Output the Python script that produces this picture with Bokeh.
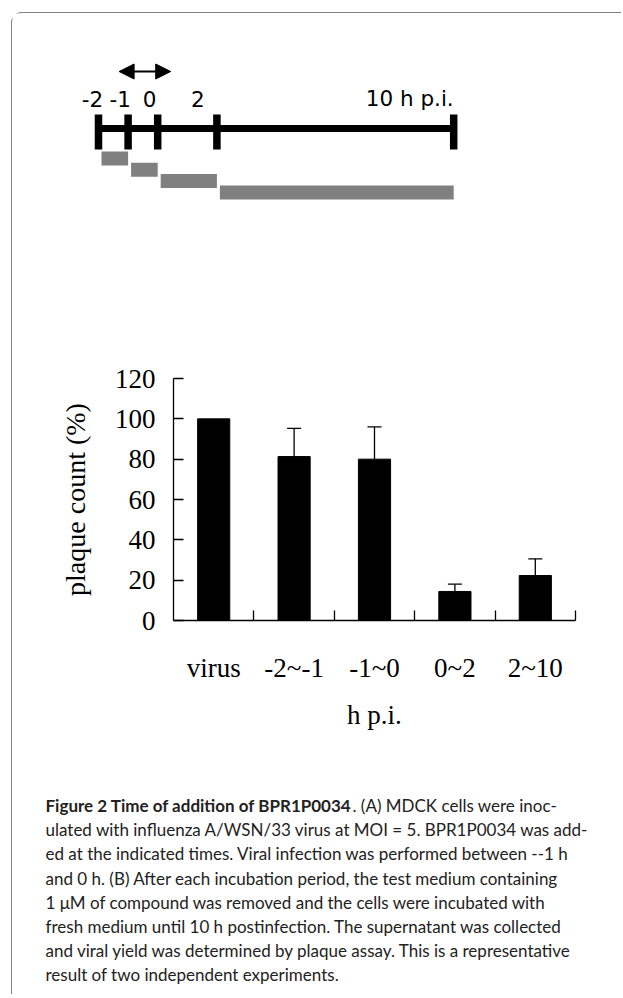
import numpy as np
from bokeh.plotting import figure
from bokeh.models import (ColumnDataSource, Range1d, FixedTicker, Whisker, TeeHead, Arrow, NormalHead)
from bokeh.core.properties import value
from bokeh.embed import file_html
from bokeh.resources import INLINE

# ---------------- data: panel A (timeline, hours post infection) ----------------
tick_hours = [-2, -1, 0, 2, 10]
tick_labels = ["-2", "-1", "0", "2", "10 h p.i."]
period_start = [-2, -1, 0, 2]
period_end = [-1, 0, 2, 10]
infection_period = [-1, 0]

# ---------------- data: panel B (plaque count) ----------------
categories = ["virus", "-2~-1", "-1~0", "0~2", "2~10"]
plaque_pct = [100, 81.3, 80.0, 14.4, 22.3]
plaque_err = [0, 14.0, 16.0, 3.6, 8.3]
y_ticks = [0, 20, 40, 60, 80, 100, 120]

# ---------------- caption ----------------
caption_bold = "Figure 2 Time of addition of BPR1P0034"
caption_first_rest = ". (A) MDCK cells were inoc-"
caption_lines = [
    "ulated with influenza A/WSN/33 virus at MOI = 5. BPR1P0034 was add-",
    "ed at the indicated times. Viral infection was performed between --1 h",
    "and 0 h. (B) After each incubation period, the test medium containing",
    "1 \u03bcM of compound was removed and the cells were incubated with",
    "fresh medium until 10 h postinfection. The supernatant was collected",
    "and viral yield was determined by plaque assay. This is a representative",
    "result of two independent experiments.",
]

W = 610
H1, H2, H3 = 326, 400, 256
PX_PER_H = 29.6
X0_PX = 145.2            # pixel of 0 h inside the figure
BORDER = "1.3px solid #808080"


def bare(fig):
    fig.grid.visible = False
    fig.outline_line_color = None
    return fig


# ---------------- panel A ----------------
p1 = figure(width=W, height=H1, x_range=Range1d(-X0_PX / PX_PER_H, (W - X0_PX) / PX_PER_H),
            y_range=Range1d(H1, 0), toolbar_location=None, output_backend="svg",
            x_axis_location=None, y_axis_location=None, min_border=0)
bare(p1)
p1.styles = {"margin-left": "11px", "margin-top": "12px",
             "border-top": BORDER, "border-left": BORDER, "border-top-left-radius": "11px"}

LINE_Y = 115
p1.segment(x0=[min(tick_hours)], x1=[max(tick_hours)], y0=[LINE_Y], y1=[LINE_Y],
           line_width=7, line_color="black", line_cap="butt")
p1.segment(x0=tick_hours, x1=tick_hours, y0=[LINE_Y - 14] * len(tick_hours),
           y1=[LINE_Y + 21] * len(tick_hours), line_width=7.5, line_color="black", line_cap="butt")

tick_src = ColumnDataSource(dict(x=tick_hours, text=tick_labels,
                                 align=["center", "center", "center", "center", "right"],
                                 dx=[-6, -8, -8, -19, 0]))
p1.text(x="x", y=LINE_Y - 30, text="text", source=tick_src, text_align="align", x_offset="dx",
        text_baseline="alphabetic", text_font=value("DejaVu Sans"), text_font_size="21.5px",
        text_color="black")

pad = 11 / PX_PER_H
shift = 2 / PX_PER_H
p1.add_layout(Arrow(x_start=infection_period[0] - pad + shift, x_end=infection_period[1] + pad + shift,
                    y_start=LINE_Y - 57, y_end=LINE_Y - 57, line_width=2, line_color="black",
                    start=NormalHead(size=15, fill_color="black", line_color="black"),
                    end=NormalHead(size=15, fill_color="black", line_color="black")))

row_top = [LINE_Y + 23 + 11.3 * i for i in range(len(period_start))]
inset = 3 / PX_PER_H
p1.quad(left=[s + inset for s in period_start], right=period_end,
        top=row_top, bottom=[t + 14 for t in row_top],
        fill_color="#808080", line_color=None)

# ---------------- panel B ----------------
SERIF = "Liberation Serif"
n = len(categories)
centers = [i + 0.5 for i in range(n)]
bounds = [i + 1 for i in range(n)]

p2 = figure(width=W, height=H2, x_range=Range1d(0, n), y_range=Range1d(0, 120),
            toolbar_location=None, output_backend="svg",
            min_border_left=161, min_border_right=47,
            min_border_top=40, min_border_bottom=118)
bare(p2)
p2.styles = {"margin-left": "11px", "border-left": BORDER}

src = ColumnDataSource(dict(x=centers, val=plaque_pct, cat=categories))
p2.vbar(x="x", top="val", width=0.4, source=src, fill_color="black", line_color="black")

idx = [i for i, e in enumerate(plaque_err) if e > 0]
wsrc = ColumnDataSource(dict(x=[centers[i] for i in idx],
                             lo=[plaque_pct[i] for i in idx],
                             hi=[plaque_pct[i] + plaque_err[i] for i in idx]))
p2.add_layout(Whisker(base="x", lower="lo", upper="hi", source=wsrc, level="annotation",
                      line_width=1.3, line_color="black", lower_head=None,
                      upper_head=TeeHead(size=14, line_width=1.3, line_color="black")))

ya = p2.yaxis[0]
ya.ticker = FixedTicker(ticks=y_ticks)
ya.major_tick_in = 10
ya.major_tick_out = 0
ya.minor_tick_line_color = None
ya.axis_line_width = 1.3
ya.major_tick_line_width = 1.3
ya.axis_line_color = "black"
ya.major_tick_line_color = "black"
ya.major_label_text_font = SERIF
ya.major_label_text_font_size = "27px"
ya.major_label_text_color = "black"
ya.major_label_standoff = 18
ya.axis_label = "plaque count (%)"
ya.axis_label_text_font = SERIF
ya.axis_label_text_font_size = "28px"
ya.axis_label_text_font_style = "normal"
ya.axis_label_text_color = "black"
ya.axis_label_standoff = 21

xa = p2.xaxis[0]
xa.ticker = FixedTicker(ticks=centers, minor_ticks=bounds)
xa.major_label_overrides = {c: name for c, name in zip(centers, categories)}
xa.major_tick_line_color = None
xa.major_tick_in = 0
xa.major_tick_out = 0
xa.minor_tick_in = 10
xa.minor_tick_out = 0
xa.minor_tick_line_width = 1.3
xa.minor_tick_line_color = "black"
xa.axis_line_width = 1.5
xa.axis_line_color = "black"
xa.major_label_standoff = 32
xa.major_label_text_font = SERIF
xa.major_label_text_font_size = "27px"
xa.major_label_text_color = "black"
xa.axis_label = "h p.i."
xa.axis_label_text_font = SERIF
xa.axis_label_text_font_size = "27px"
xa.axis_label_text_font_style = "normal"
xa.axis_label_text_color = "black"
xa.axis_label_standoff = 14

# ---------------- caption ----------------
p3 = figure(width=W, height=H3, x_range=Range1d(0, W), y_range=Range1d(H3, 0),
            toolbar_location=None, output_backend="svg", x_axis_location=None,
            y_axis_location=None, min_border=0)
bare(p3)
p3.styles = {"margin-left": "11px", "border-left": BORDER}
CAP_FONT = value("Lato")
CAP_SIZE = "17px"
CAP_X = 33
CAP_Y0 = 67
CAP_DY = 24.2
p3.text(x=[CAP_X], y=[CAP_Y0], text=[caption_bold], text_font=CAP_FONT, text_font_size=CAP_SIZE,
        text_font_style="bold", text_baseline="alphabetic", text_color="#222222")
p3.text(x=[340], y=[CAP_Y0], text=[caption_first_rest], text_font=CAP_FONT, text_font_size=CAP_SIZE,
        text_baseline="alphabetic", text_color="#222222")
p3.text(x=[CAP_X] * len(caption_lines), y=[CAP_Y0 + CAP_DY * (i + 1) for i in range(len(caption_lines))],
        text=caption_lines, text_font=CAP_FONT, text_font_size=CAP_SIZE,
        text_baseline="alphabetic", text_color="#222222")

open("out.html", "w").write(file_html([p1, p2, p3], INLINE))
